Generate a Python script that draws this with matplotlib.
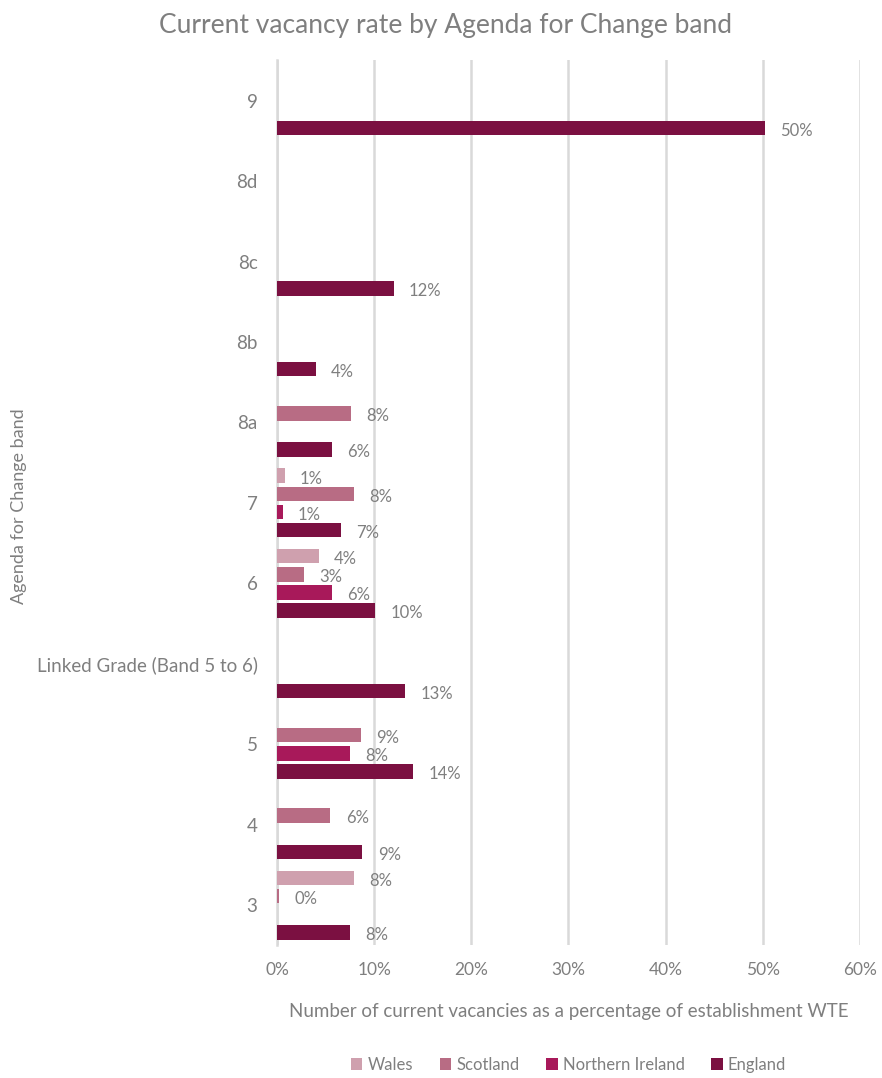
import numpy as np
import matplotlib.pyplot as plt

plt.rcParams['font.family'] = ['Lato', 'DejaVu Sans']

bands = ['3', '4', '5', 'Linked Grade (Band 5 to 6)', '6', '7', '8a', '8b', '8c', '8d', '9']
series = ['Wales', 'Scotland', 'Northern Ireland', 'England']

# vacancy rate (%) per band, np.nan = no bar
wales = [7.9, np.nan, np.nan, np.nan, 4.3, 0.8, np.nan, np.nan, np.nan, np.nan, np.nan]
scotland = [0.2, 5.5, 8.6, np.nan, 2.8, 7.9, 7.6, np.nan, np.nan, np.nan, np.nan]
n_ireland = [np.nan, np.nan, 7.5, np.nan, 5.7, 0.6, np.nan, np.nan, np.nan, np.nan, np.nan]
england = [7.5, 8.8, 14.0, 13.2, 10.1, 6.6, 5.7, 4.0, 12.0, np.nan, 50.2]

colors = ['#cfa0ae', '#b86c84', '#a8195a', '#7b1041']
grey = '#7f7f7f'

fig = plt.figure(figsize=(8.82, 10.78), dpi=100)
ax = fig.add_axes([0.314, 0.123, 0.661, 0.821])

y = np.arange(len(bands))
h = 0.225
offsets = [1.5 * h, 0.5 * h, -0.5 * h, -1.5 * h]

for vals, name, col, off in zip([wales, scotland, n_ireland, england], series, colors, offsets):
    vals = np.array(vals)
    bars = ax.barh(y + off, vals, height=h * 0.8, color=col, label=name, zorder=3)
    for b, v in zip(bars, vals):
        if np.isnan(v):
            continue
        ax.annotate(f'{v:.0f}%', (v, b.get_y() + b.get_height() / 2),
                    xytext=(11, -2), textcoords='offset points',
                    ha='left', va='center', fontsize=12, color=grey)

ax.set_xlim(0, 60)
ax.set_ylim(-0.5, len(bands) - 0.5)
ax.set_xticks(np.arange(0, 61, 10))
ax.set_xticklabels([f'{t}%' for t in range(0, 61, 10)])
ax.set_yticks(y)
ax.set_yticklabels(bands)
ax.tick_params(axis='x', labelsize=12.5, colors=grey, length=0, pad=12)
ax.tick_params(axis='y', labelsize=13.5, colors=grey, length=0, pad=14)
ax.grid(axis='x', color='#d9d9d9', linewidth=1.8, zorder=0)
for s in ['top', 'right', 'bottom']:
    ax.spines[s].set_visible(False)
ax.spines['left'].set_color('#d9d9d9')
ax.spines['left'].set_linewidth(1.8)

ax.set_xlabel('Number of current vacancies as a percentage of establishment WTE',
              fontsize=13.5, color=grey, labelpad=18)
fig.text(0.022, 0.53, 'Agenda for Change band', rotation=90, fontsize=13,
         color=grey, ha='center', va='center')
fig.suptitle('Current vacancy rate by Agenda for Change band', fontsize=19,
             color=grey, x=0.505, y=0.988)

ax.legend(loc='center', bbox_to_anchor=(0.5, -0.135), ncol=4, frameon=False,
          fontsize=12, labelcolor=grey, handlelength=0.7, handleheight=0.7,
          handletextpad=0.3, columnspacing=1.6)

fig.savefig('out.png', dpi=100)
